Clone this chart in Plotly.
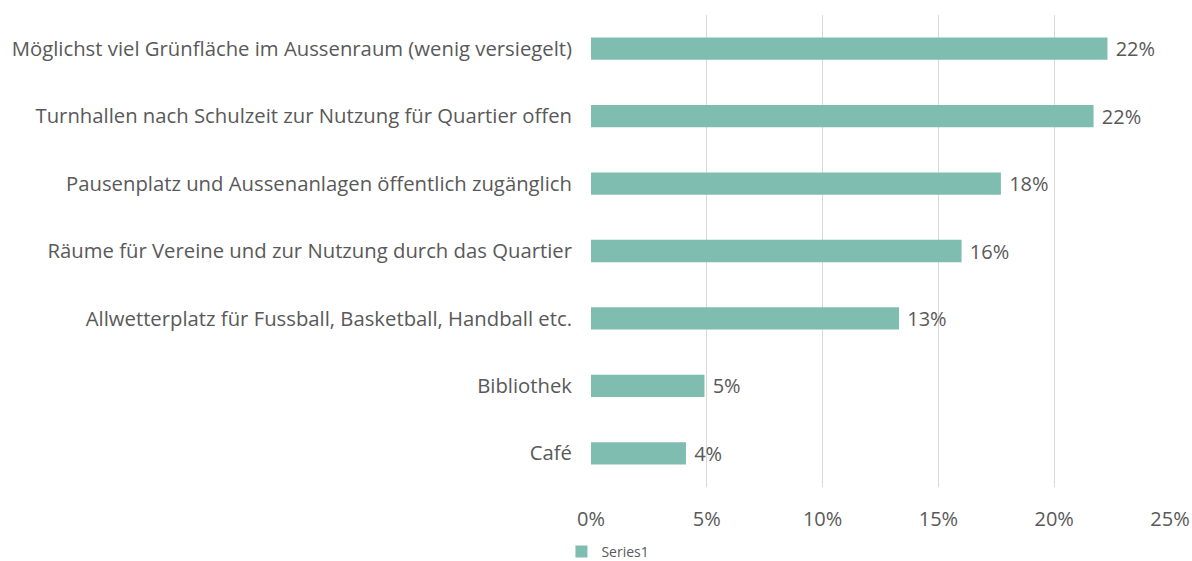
import plotly.graph_objects as go

categories = [
    "Möglichst viel Grünfläche im Aussenraum (wenig versiegelt)",
    "Turnhallen nach Schulzeit zur Nutzung für Quartier offen",
    "Pausenplatz und Aussenanlagen öffentlich zugänglich",
    "Räume für Vereine und zur Nutzung durch das Quartier",
    "Allwetterplatz für Fussball, Basketball, Handball etc.",
    "Bibliothek",
    "Café",
]
values = [0.223, 0.217, 0.177, 0.160, 0.133, 0.049, 0.041]
xticks = [0, 0.05, 0.10, 0.15, 0.20, 0.25]
xticklabels = ["0%", "5%", "10%", "15%", "20%", "25%"]

font_family = "Open Sans, Noto Sans, sans-serif"
grey = "#595959"

fig = go.Figure(
    go.Bar(
        x=values,
        y=categories,
        orientation="h",
        name="Series1",
        marker=dict(color="#80BDB1", line=dict(width=0)),
        text=[f"{v*100:.0f}%" for v in values],
        textposition="outside",
        texttemplate=" %{text}",
        constraintext="none",
        textfont=dict(size=20, color=grey, family=font_family),
        cliponaxis=False,
    )
)

fig.update_layout(
    width=1192,
    height=561,
    margin=dict(l=591, r=22, t=15, b=74, autoexpand=False),
    plot_bgcolor="white",
    paper_bgcolor="white",
    bargap=0.67,
    font=dict(family=font_family, color=grey, size=20),
    showlegend=True,
    legend=dict(
        orientation="h",
        xref="container",
        yref="container",
        x=0.51,
        y=0.016,
        xanchor="center",
        yanchor="middle",
        font=dict(size=14, color=grey),
        itemwidth=30,
    ),
)

fig.update_xaxes(
    range=[0, 0.25],
    tickvals=xticks,
    ticktext=xticklabels,
    showgrid=True,
    gridcolor="#D9D9D9",
    gridwidth=1,
    zeroline=False,
    showline=False,
    ticks="",
    automargin=False,
    ticklabelstandoff=18,
    tickfont=dict(size=20, color=grey),
)
fig.update_yaxes(
    categoryorder="array",
    categoryarray=categories[::-1],
    showgrid=False,
    zeroline=False,
    showline=False,
    ticks="",
    automargin=False,
    ticklabelstandoff=18,
    tickfont=dict(size=20.3, color=grey),
)

fig.write_html(
    "out.html",
    config={"displayModeBar": False},
    post_script="document.body.style.margin='0';document.body.style.padding='0';",
)
